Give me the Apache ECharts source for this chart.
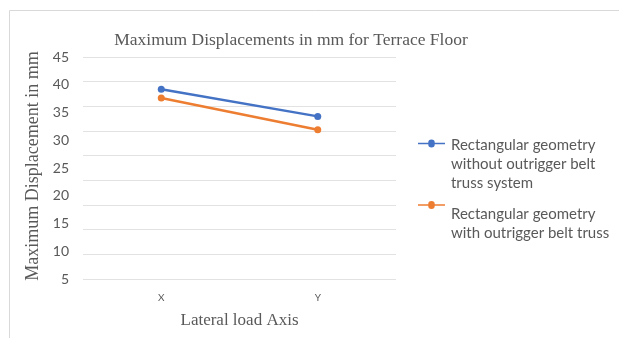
<!DOCTYPE html>
<html>
<head>
<meta charset="utf-8">
<script src="https://cdn.jsdelivr.net/npm/echarts@6/dist/echarts.min.js"></script>
<style>
  html, body { margin: 0; padding: 0; background: #fff; }
  #chart { width: 619px; height: 338px; }
</style>
</head>
<body>
<div id="chart"></div>
<script>
// Lateral load directions
const categories = ['X', 'Y'];
// Maximum displacement (mm) at the terrace floor
const withoutBelt = [39.2, 34.3];
const withBelt = [37.6, 31.9];
const seriesNames = [
  'Rectangular geometry\nwithout outrigger belt\ntruss system',
  'Rectangular geometry\nwith outrigger belt truss'
];
// Labelled value scale
const yTicks = { min: 5, max: 45, interval: 5 };
// Gridline scale (ten horizontal rules)
const gridTicks = { min: 0, max: 45, interval: 5 };

const chart = echarts.init(document.getElementById('chart'), null, { renderer: 'canvas' });

const serif = '"Liberation Serif", "DejaVu Serif", serif';
const sans = 'Lato, "Open Sans", sans-serif';
const grey = '#595959';

const legendIcon = 'path://M0,3.2 L11,3.2 A3.5,3.5 0 1,1 18,3.2 L29,3.2 L29,4.8 L18,4.8 A3.5,3.5 0 1,1 11,4.8 L0,4.8 Z';

// Legend entry whose marker sits beside the first line of its text:
// an empty spacer row above the label pushes the text block down.
function legendEntry(name, top, gap) {
  return {
    orient: 'vertical',
    left: 418,
    top: top,
    padding: 0,
    itemWidth: 29,
    itemHeight: 8,
    icon: legendIcon,
    data: [name],
    formatter: (n) => '{gap| }\n' + n,
    textStyle: {
      fontFamily: sans, fontSize: 15, color: grey, lineHeight: 19,
      rich: { gap: { lineHeight: gap, fontSize: 1 } }
    }
  };
}

chart.setOption({
  animation: false,
  backgroundColor: '#ffffff',
  title: {
    text: 'Maximum Displacements in mm for Terrace Floor',
    left: 286,
    top: 26,
    textAlign: 'center',
    textStyle: { fontFamily: serif, fontSize: 17.5, fontWeight: 'normal', color: grey }
  },
  graphic: [
    { type: 'line', shape: { x1: 9.5, y1: 10.5, x2: 619, y2: 10.5 }, style: { stroke: '#d9d9d9', lineWidth: 1 } },
    { type: 'line', shape: { x1: 9.5, y1: 10.5, x2: 9.5, y2: 338 }, style: { stroke: '#d9d9d9', lineWidth: 1 } }
  ],
  legend: [
    legendEntry(seriesNames[0], 94, 42),
    legendEntry(seriesNames[1], 167, 38)
  ],
  grid: { left: 83, top: 57, width: 313, height: 222 },
  xAxis: {
    type: 'category',
    data: categories,
    boundaryGap: true,
    axisLine: { show: false },
    axisTick: { show: false },
    axisLabel: { fontFamily: sans, fontSize: 10, color: grey, margin: 14 },
    name: 'Lateral load Axis',
    nameLocation: 'middle',
    nameGap: 33,
    nameTextStyle: { fontFamily: serif, fontSize: 17, color: grey }
  },
  yAxis: [
    {
      type: 'value',
      min: yTicks.min,
      max: yTicks.max,
      interval: yTicks.interval,
      axisLine: { show: false },
      axisTick: { show: false },
      splitLine: { show: false },
      axisLabel: { fontFamily: sans, fontSize: 14, color: grey, margin: 14 },
      name: 'Maximum Displacement in mm',
      nameLocation: 'middle',
      nameGap: 41,
      nameTextStyle: { fontFamily: serif, fontSize: 18, color: grey, padding: [0, 0, 0, 4] }
    },
    {
      type: 'value',
      position: 'left',
      min: gridTicks.min,
      max: gridTicks.max,
      interval: gridTicks.interval,
      axisLine: { show: false },
      axisTick: { show: false },
      axisLabel: { show: false },
      splitLine: { lineStyle: { color: '#e2e2e2', width: 1 } }
    }
  ],
  series: [
    {
      name: seriesNames[0],
      type: 'line',
      yAxisIndex: 0,
      data: withoutBelt,
      color: '#4472c4',
      symbol: 'circle',
      symbolSize: 7,
      lineStyle: { width: 2.5 }
    },
    {
      name: seriesNames[1],
      type: 'line',
      yAxisIndex: 0,
      data: withBelt,
      color: '#ed7d31',
      symbol: 'circle',
      symbolSize: 7,
      lineStyle: { width: 2.5 }
    }
  ]
});
</script>
</body>
</html>
